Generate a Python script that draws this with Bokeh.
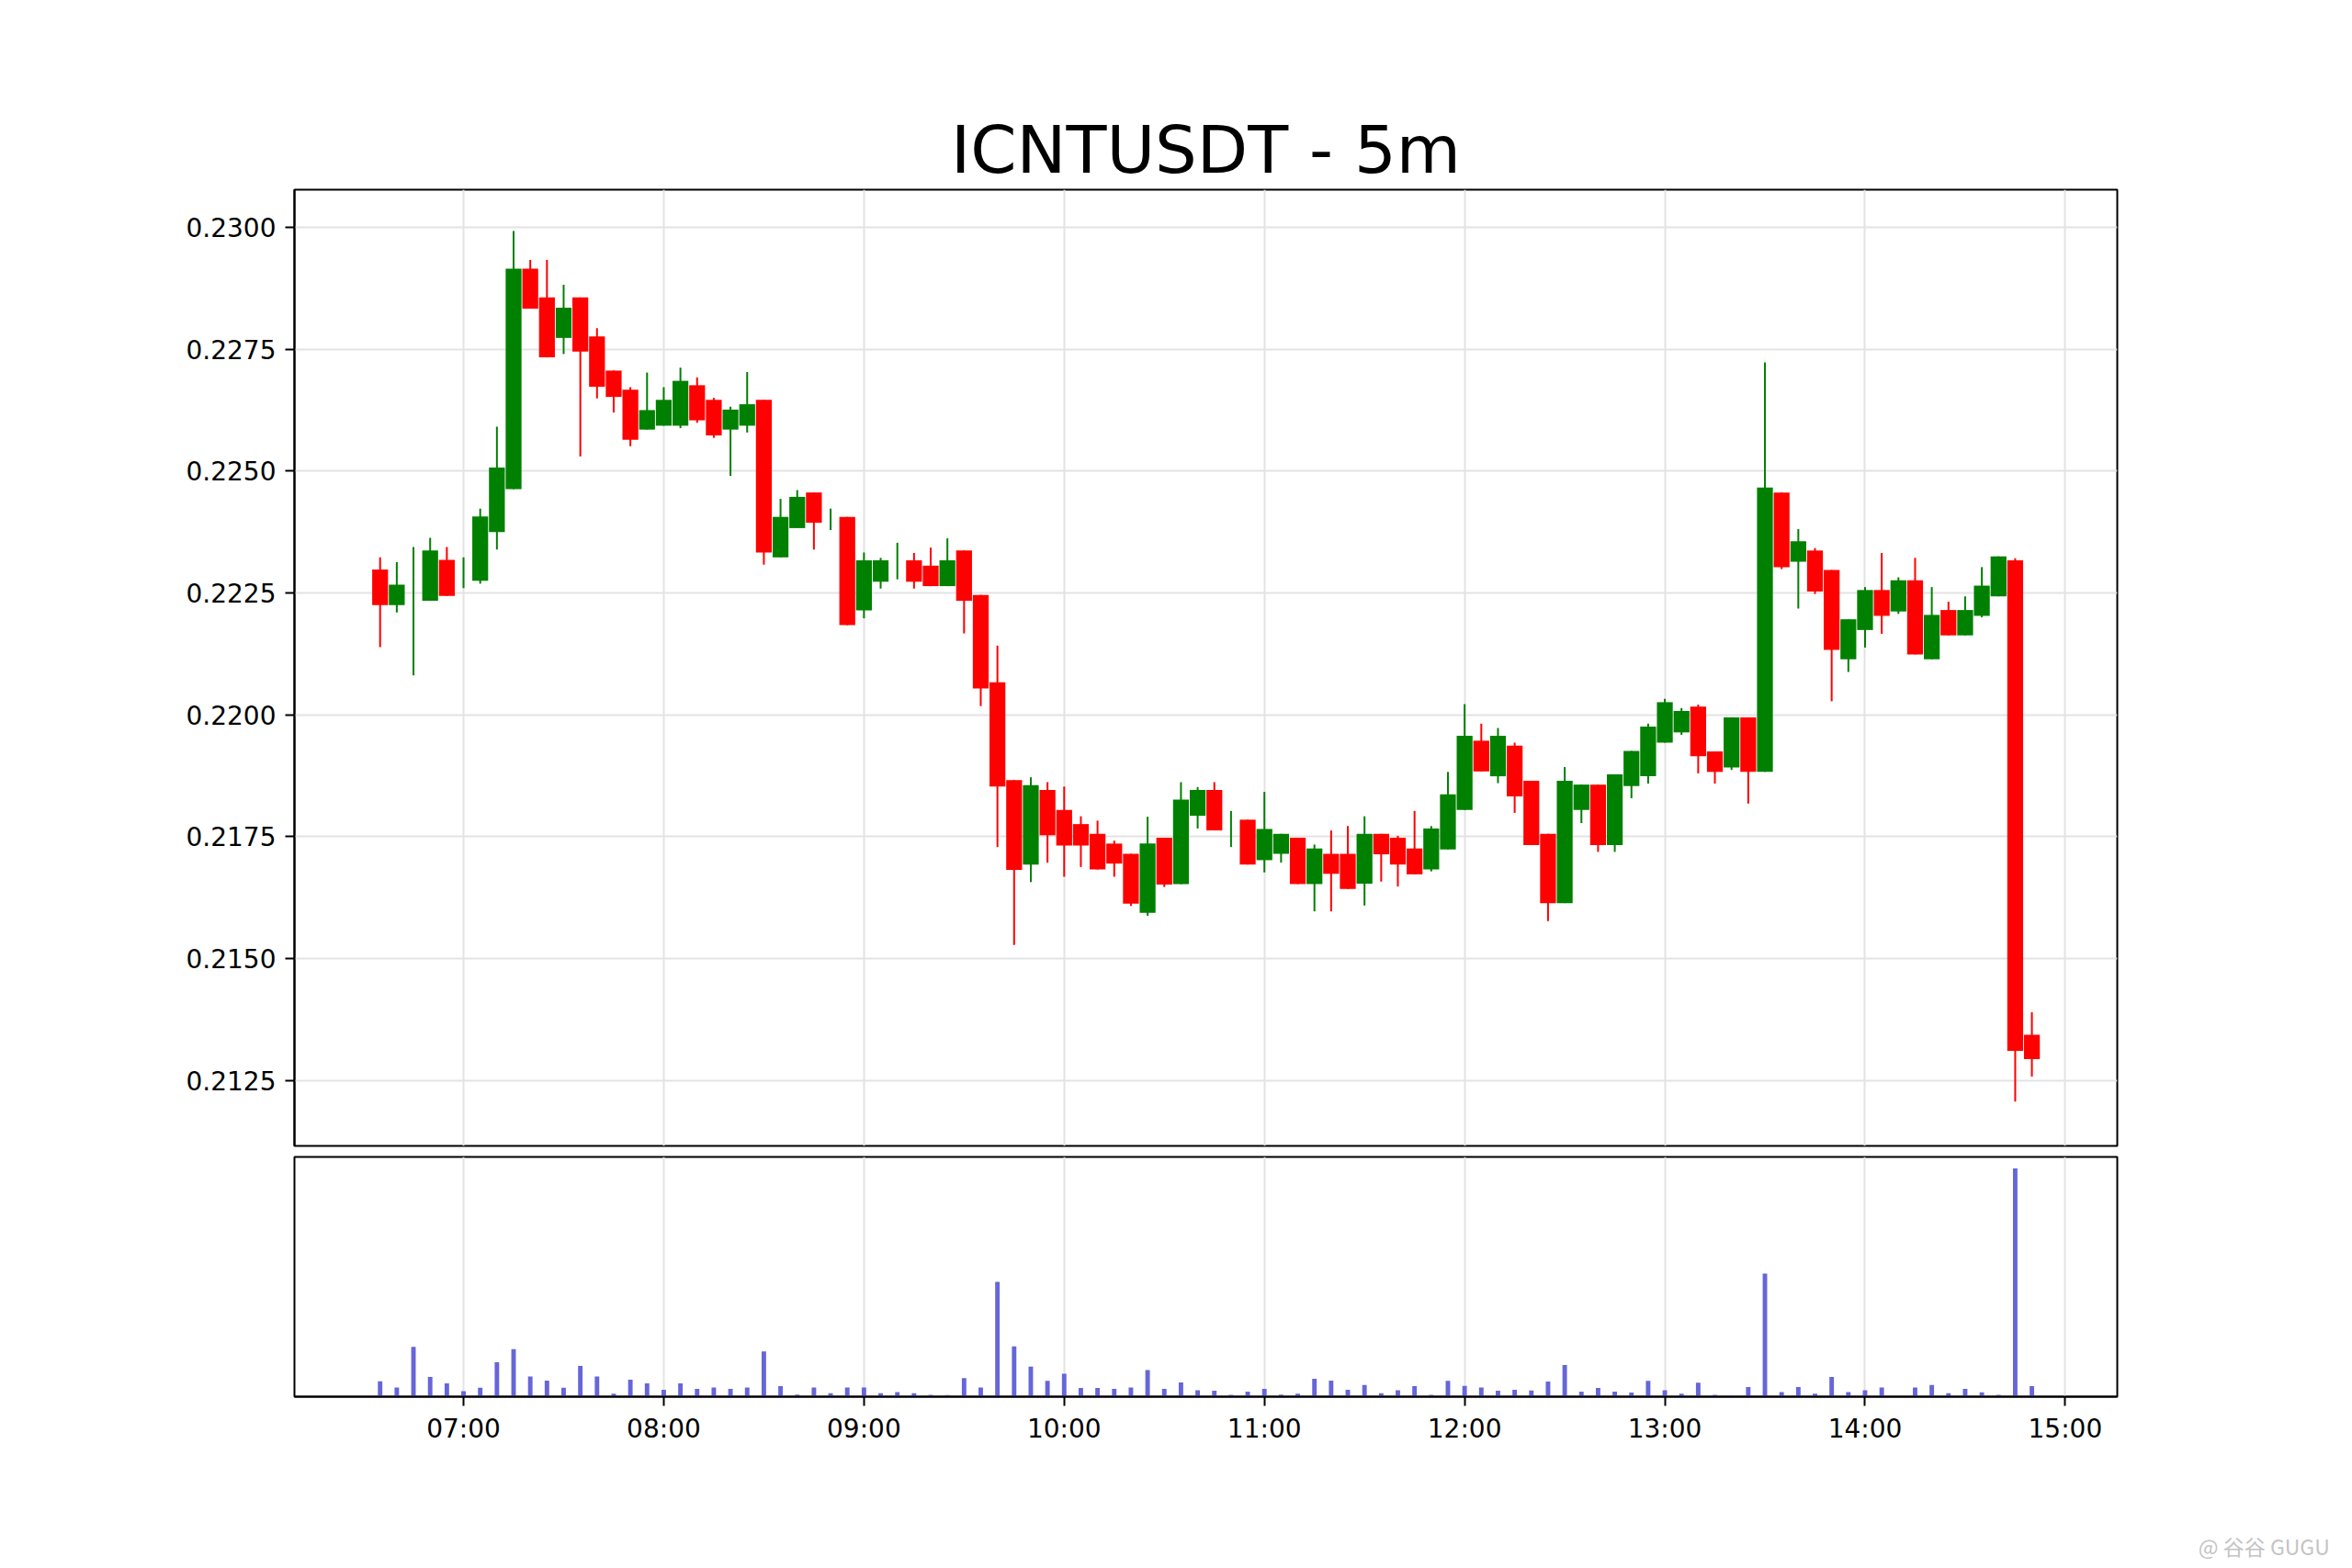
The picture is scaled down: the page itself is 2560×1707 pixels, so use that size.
import pandas as pd
from bokeh.plotting import figure
from bokeh.layouts import column, row
from bokeh.models import (ColumnDataSource, Range1d, FixedTicker, PrintfTickFormatter,
                          DatetimeTickFormatter, Spacer)
from bokeh.core.properties import value
from bokeh.embed import file_html
from bokeh.resources import INLINE

# ---------------- data ----------------
symbol = "ICNTUSDT"
interval = "5m"
start_time = "2025-01-01 06:35"
n_candles = 100

opens = [
    0.22298, 0.22225, 0.22250, 0.22234, 0.22318,
    0.22280, 0.22275, 0.22375, 0.22463, 0.22915, 0.22856, 0.22773, 0.22856, 0.22776, 0.22706, 0.22667, 0.22585,
    0.22593, 0.22593, 0.22676, 0.22646, 0.22585, 0.22593, 0.22646, 0.22323, 0.22383, 0.22456, 0.22400, 0.22406,
    0.22214, 0.22273, 0.22310, 0.22317, 0.22306, 0.22264, 0.22337, 0.22246, 0.22067, 0.21866, 0.21693, 0.21846,
    0.21805, 0.21776, 0.21756, 0.21736, 0.21715, 0.21594, 0.21748, 0.21653, 0.21793, 0.21846, 0.21770, 0.21785,
    0.21702, 0.21715, 0.21748, 0.21653, 0.21715, 0.21715, 0.21654, 0.21756, 0.21748, 0.21726, 0.21683, 0.21724,
    0.21805, 0.21947, 0.21874, 0.21937, 0.21865, 0.21756, 0.21614, 0.21805, 0.21857, 0.21733, 0.21854, 0.21874,
    0.21943, 0.21964, 0.22017, 0.21925, 0.21892, 0.21995, 0.21883, 0.22456, 0.22314, 0.22337, 0.22297, 0.22114,
    0.22174, 0.22256, 0.22212, 0.22276, 0.22114, 0.22215, 0.22163, 0.22203, 0.22243, 0.22317, 0.21344,
]
highs = [
    0.22323, 0.22313, 0.22344, 0.22363, 0.22344,
    0.22323, 0.22423, 0.22591, 0.22992, 0.22933, 0.22933, 0.22882, 0.22856, 0.22793, 0.22706, 0.22672, 0.22702,
    0.22672, 0.22712, 0.22692, 0.22650, 0.22632, 0.22703, 0.22646, 0.22443, 0.22461, 0.22456, 0.22423, 0.22406,
    0.22333, 0.22322, 0.22353, 0.22332, 0.22343, 0.22362, 0.22337, 0.22246, 0.22142, 0.21866, 0.21872, 0.21862,
    0.21853, 0.21792, 0.21783, 0.21742, 0.21715, 0.21791, 0.21748, 0.21862, 0.21852, 0.21862, 0.21803, 0.21785,
    0.21842, 0.21756, 0.21748, 0.21734, 0.21763, 0.21772, 0.21792, 0.21756, 0.21752, 0.21803, 0.21772, 0.21883,
    0.22022, 0.21982, 0.21973, 0.21943, 0.21865, 0.21756, 0.21893, 0.21857, 0.21857, 0.21878, 0.21926, 0.21982,
    0.22033, 0.22014, 0.22021, 0.21925, 0.21995, 0.21995, 0.22723, 0.22456, 0.22381, 0.22342, 0.22297, 0.22196,
    0.22262, 0.22332, 0.22282, 0.22322, 0.22262, 0.22232, 0.22243, 0.22303, 0.22325, 0.22321, 0.21390,
]
lows = [
    0.22139, 0.22210, 0.22081, 0.22234, 0.22244,
    0.22260, 0.22269, 0.22339, 0.22463, 0.22833, 0.22733, 0.22740, 0.22530, 0.22649, 0.22620, 0.22551, 0.22585,
    0.22593, 0.22588, 0.22599, 0.22568, 0.22490, 0.22579, 0.22308, 0.22323, 0.22383, 0.22339, 0.22379, 0.22184,
    0.22198, 0.22259, 0.22278, 0.22259, 0.22264, 0.22264, 0.22167, 0.22018, 0.21729, 0.21528, 0.21657, 0.21697,
    0.21668, 0.21688, 0.21683, 0.21668, 0.21608, 0.21588, 0.21647, 0.21653, 0.21767, 0.21763, 0.21729, 0.21693,
    0.21677, 0.21697, 0.21653, 0.21597, 0.21597, 0.21643, 0.21609, 0.21658, 0.21648, 0.21673, 0.21679, 0.21724,
    0.21805, 0.21884, 0.21860, 0.21799, 0.21733, 0.21577, 0.21614, 0.21778, 0.21719, 0.21719, 0.21829, 0.21859,
    0.21943, 0.21959, 0.21880, 0.21859, 0.21887, 0.21818, 0.21883, 0.22299, 0.22218, 0.22248, 0.22028, 0.22088,
    0.22138, 0.22166, 0.22207, 0.22124, 0.22114, 0.22163, 0.22163, 0.22200, 0.22243, 0.21207, 0.21258,
]
closes = [
    0.22225, 0.22267, 0.22250, 0.22337, 0.22244,
    0.22280, 0.22407, 0.22507, 0.22915, 0.22833, 0.22733, 0.22835, 0.22745, 0.22673, 0.22652, 0.22564, 0.22625,
    0.22646, 0.22685, 0.22604, 0.22573, 0.22626, 0.22637, 0.22333, 0.22406, 0.22447, 0.22394, 0.22400, 0.22184,
    0.22317, 0.22317, 0.22310, 0.22273, 0.22264, 0.22317, 0.22234, 0.22054, 0.21853, 0.21682, 0.21856, 0.21753,
    0.21732, 0.21732, 0.21683, 0.21695, 0.21613, 0.21736, 0.21652, 0.21826, 0.21846, 0.21763, 0.21770, 0.21693,
    0.21766, 0.21756, 0.21653, 0.21726, 0.21674, 0.21643, 0.21756, 0.21714, 0.21693, 0.21673, 0.21767, 0.21837,
    0.21957, 0.21884, 0.21957, 0.21833, 0.21733, 0.21614, 0.21865, 0.21857, 0.21733, 0.21878, 0.21926, 0.21976,
    0.22026, 0.22008, 0.21915, 0.21883, 0.21995, 0.21883, 0.22466, 0.22303, 0.22356, 0.22253, 0.22133, 0.22196,
    0.22256, 0.22203, 0.22276, 0.22124, 0.22205, 0.22163, 0.22215, 0.22265, 0.22325, 0.21311, 0.21294,
]
volumes = [
    6.7, 4.0, 21.8, 8.6, 5.8,
    2.4, 3.9, 15.1, 20.8, 8.9, 7.0, 3.9, 13.5, 8.9, 1.3, 7.4, 5.8,
    3.0, 5.8, 3.4, 4.0, 3.4, 4.0, 19.8, 4.6, 0.9, 4.0, 1.5, 4.0,
    4.0, 1.5, 2.0, 1.5, 0.8, 0.7, 8.1, 4.0, 50.3, 22.0, 13.2, 6.9,
    10.1, 3.8, 3.8, 3.4, 4.0, 11.7, 3.4, 6.2, 2.8, 2.6, 0.8, 2.2,
    3.4, 0.9, 1.3, 7.8, 7.0, 3.0, 5.1, 1.5, 2.8, 4.6, 0.8, 6.9,
    4.7, 4.0, 2.6, 3.0, 2.7, 6.6, 13.9, 2.2, 3.8, 2.2, 1.8, 6.9,
    2.8, 1.3, 6.1, 0.8, 0.5, 4.2, 53.9, 2.0, 4.2, 1.3, 8.6, 2.0,
    2.8, 4.0, 0.3, 4.0, 5.1, 1.5, 3.4, 1.9, 0.8, 100.0, 4.6,
]
price_ticks = [0.2125, 0.2150, 0.2175, 0.2200, 0.2225, 0.2250, 0.2275, 0.2300]
hour_ticks = ["07:00", "08:00", "09:00", "10:00", "11:00", "12:00", "13:00", "14:00", "15:00"]
watermark = "@ 谷谷 GUGU"

# ---------------- build ----------------
EPOCH = pd.Timestamp("1970-01-01")
MS = pd.Timedelta(milliseconds=1)
times = pd.date_range(start_time, periods=n_candles, freq="5min")
t_ms = [(t - EPOCH) // MS for t in times]
day = "2025-01-01 "
tick_ms = [(pd.Timestamp(day + h) - EPOCH) // MS for h in hour_ticks]

GREEN = "#008000"
RED = "#ff0000"
colors = [GREEN if c >= o else RED for o, c in zip(opens, closes)]
src = ColumnDataSource(dict(
    t=t_ms, open=opens, high=highs, low=lows, close=closes, vol=volumes, color=colors,
    top=[max(o, c) for o, c in zip(opens, closes)],
    bottom=[min(o, c) for o, c in zip(opens, closes)],
))

minute = 60_000
xr = Range1d(start=(pd.Timestamp(day + "06:09:20") - EPOCH) // MS,
             end=(pd.Timestamp(day + "15:15:35") - EPOCH) // MS)

FONT = "DejaVu Sans"
GRID = "#e3e3e3"
W = 2556

p1 = figure(width=W, height=1253, x_axis_type="datetime", x_range=xr,
            y_range=Range1d(0.21116, 0.23077),
            output_backend="svg", toolbar_location=None,
            min_border_left=320, min_border_right=W - 2304, min_border_top=206, min_border_bottom=6)
p1.title.text = f"{symbol} - {interval}"
p1.title.align = "center"
p1.title.text_font = FONT
p1.title.text_font_size = "72px"
p1.title.text_font_style = "normal"
p1.title.text_color = "black"
p1.title.standoff = 4

p1.segment(x0="t", y0="high", x1="t", y1="low", color="color", line_width=2, source=src)
p1.vbar(x="t", width=4.75 * minute, top="top", bottom="bottom",
        fill_color="color", line_color=None, source=src)

p1.xaxis.visible = False
p1.xgrid.ticker = FixedTicker(ticks=tick_ms)
p1.yaxis.ticker = FixedTicker(ticks=price_ticks)
p1.yaxis.formatter = PrintfTickFormatter(format="%.4f")
for g in (p1.xgrid, p1.ygrid):
    g.grid_line_color = GRID
    g.grid_line_width = 2
p1.yaxis.major_label_text_font = FONT
p1.yaxis.major_label_text_font_size = "28px"
p1.yaxis.major_label_text_color = "black"
p1.yaxis.major_tick_in = 0
p1.yaxis.major_tick_out = 10
p1.yaxis.major_tick_line_width = 2
p1.yaxis.major_tick_line_color = "black"
p1.yaxis.minor_tick_line_color = None
p1.yaxis.axis_line_width = 2
p1.yaxis.axis_line_color = "black"
p1.yaxis.major_label_standoff = 10
p1.outline_line_color = "black"
p1.outline_line_width = 2
p1.background_fill_color = "white"
p1.border_fill_color = "white"

p2 = figure(width=W, height=327, x_axis_type="datetime", x_range=xr,
            y_range=Range1d(0, 105),
            output_backend="svg", toolbar_location=None,
            min_border_left=320, min_border_right=W - 2304, min_border_top=6, min_border_bottom=60)
p2.vbar(x="t", width=1.35 * minute, top="vol", bottom=0, fill_color="#6666d9",
        line_color=None, source=src)
p2.yaxis.visible = False
p2.ygrid.grid_line_color = None
p2.xgrid.grid_line_color = GRID
p2.xgrid.grid_line_width = 2
p2.xaxis.ticker = FixedTicker(ticks=tick_ms)
p2.xaxis.formatter = DatetimeTickFormatter(
    minutes="%H:%M", hourmin="%H:%M", hours="%H:%M", days="%H:%M", minsec="%H:%M",
    seconds="%H:%M", milliseconds="%H:%M", months="%H:%M", years="%H:%M")
p2.xaxis.major_label_text_font = FONT
p2.xaxis.major_label_text_font_size = "28px"
p2.xaxis.major_label_text_color = "black"
p2.xaxis.major_tick_in = 0
p2.xaxis.major_tick_out = 10
p2.xaxis.major_tick_line_width = 2
p2.xaxis.major_tick_line_color = "black"
p2.xaxis.minor_tick_line_color = None
p2.xaxis.axis_line_width = 2
p2.xaxis.axis_line_color = "black"
p2.xaxis.major_label_standoff = 8
p2.outline_line_color = "black"
p2.outline_line_width = 2
p2.background_fill_color = "white"
p2.border_fill_color = "white"

# watermark strip (bottom right corner of the picture)
WM_LEFT = 2370
p3 = figure(width=W - WM_LEFT, height=120, x_range=Range1d(0, 1), y_range=Range1d(0, 1),
            output_backend="svg", toolbar_location=None,
            min_border_left=0, min_border_right=0, min_border_top=0, min_border_bottom=0)
p3.axis.visible = False
p3.grid.grid_line_color = None
p3.outline_line_color = None
p3.background_fill_color = "white"
p3.border_fill_color = "white"
p3.text(x=[0.12], y=[0.15], text=[watermark], text_font=value("Noto Sans CJK SC"),
        text_font_size="23px", text_color="#c4c4c4", text_baseline="middle", text_align="left")

layout = column(p1, p2, row(Spacer(width=WM_LEFT, height=120), p3, spacing=0), spacing=0)
open("out.html", "w").write(file_html(layout, INLINE))
